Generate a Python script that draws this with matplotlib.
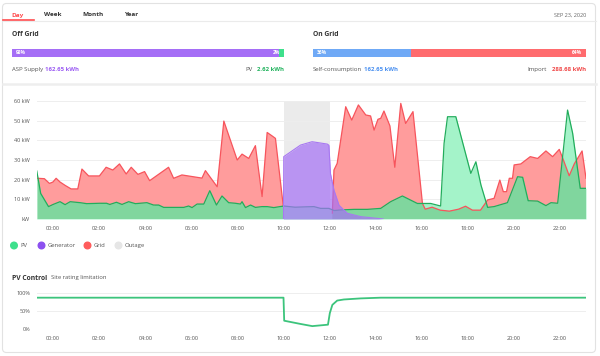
import numpy as np
import matplotlib
matplotlib.use('Agg')
import matplotlib.pyplot as plt
import matplotlib.transforms as mtransforms
from matplotlib.patches import FancyBboxPatch, Circle
from matplotlib.path import Path

plt.rcParams['font.family'] = ['Open Sans', 'DejaVu Sans']

# --- data ---
tabs = ['Day', 'Week', 'Month', 'Year']
date_label = 'SEP 23, 2020'

offgrid_pct = [98, 2]
offgrid_kwh = ['162.65 kWh', '2.62 kWh']
ongrid_pct = [36, 64]
ongrid_kwh = ['162.65 kWh', '288.68 kWh']

grid_hours = [-0.67, -0.38, -0.16, -0.01, 0.13, 0.30, 0.52, 0.78, 1.07, 1.25, 1.54, 2.01,
              2.30, 2.59, 2.88, 3.17, 3.39, 3.68, 3.97, 4.19, 5.01, 5.23, 5.59, 6.46,
              6.61, 7.12, 7.41, 7.99, 8.20, 8.49, 8.78, 9.07, 9.29, 9.51, 9.65, 9.99,
              10.03, 12.08, 12.12, 12.19, 12.33, 12.70, 12.96, 13.25, 13.57, 13.78, 13.93,
              14.10, 14.22, 14.36, 14.62, 14.83, 15.09, 15.30, 15.62, 16.03, 16.15, 16.45,
              16.80, 17.20, 17.60, 17.90, 18.20, 18.55, 18.86, 19.14, 19.39, 19.54, 19.68,
              19.80, 19.94, 20.01, 20.30, 20.71, 21.03, 21.39, 21.68, 21.97, 22.15, 22.40,
              22.62, 22.96, 23.13]
grid_kw = [20.7, 20.5, 18.1, 18.8, 20.7, 18.8, 17.1, 15.3, 15.3, 25.4, 21.9, 21.9,
           26.3, 24.9, 28.0, 22.9, 26.3, 22.7, 24.1, 19.5, 26.3, 20.7, 22.4, 20.8,
           24.6, 16.4, 49.8, 30.0, 33.0, 30.8, 37.3, 11.4, 44.0, 42.2, 41.0, 6.6,
           np.nan, np.nan, 3.0, 24.9, 28.3, 57.1, 50.3, 58.0, 52.9, 52.4, 45.2,
           50.7, 51.2, 54.9, 47.3, 26.3, 58.8, 48.6, 54.6, 8.0, 5.0, 6.0,
           4.5, 4.0, 5.0, 6.5, 4.5, 4.5, 9.7, 10.5, 19.8, 13.9, 13.9,
           20.7, 20.7, 27.5, 28.0, 31.7, 30.8, 34.6, 31.7, 35.4, 30.0, 22.0,
           28.0, 34.6, 20.7]

pv_hours = [-0.71, -0.54, -0.20, 0.0, 0.30, 0.52, 0.74, 1.17, 1.46, 2.03, 2.32, 2.46,
            2.75, 2.99, 3.28, 3.57, 4.07, 4.36, 4.58, 4.80, 5.67, 5.88, 6.03, 6.25,
            6.54, 6.80, 7.09, 7.33, 7.62, 7.91, 8.13, 8.20, 8.35, 8.57, 8.78, 9.07,
            9.29, 9.58, 10.01, 10.50, 11.00, 11.32, 11.61, 11.97, 12.20, 12.48, 13.06,
            13.64, 14.22, 14.65, 15.16, 15.81, 16.39, 16.82, 16.97, 17.12, 17.48, 18.13,
            18.35, 18.57, 18.86, 19.14, 19.72, 20.16, 20.38, 20.62, 21.03, 21.39, 21.61,
            21.90, 22.33, 22.55, 22.88, 23.13]
pv_kw = [24.4, 13.0, 6.3, 7.4, 8.8, 7.3, 8.8, 8.3, 7.8, 8.0, 8.0, 7.4,
         8.5, 7.4, 8.8, 7.8, 8.3, 7.1, 7.1, 5.9, 5.9, 6.6, 5.8, 7.6,
         7.6, 14.4, 7.1, 11.7, 8.3, 8.0, 7.6, 8.8, 5.8, 7.1, 5.9, 6.3,
         6.3, 5.8, 6.6, 6.0, 6.2, 6.3, 5.4, 5.4, 4.3, 4.6, 4.9,
         4.9, 5.4, 8.8, 11.7, 7.9, 7.9, 6.6, 38.5, 52.0, 52.0, 23.2,
         29.1, 17.3, 5.9, 6.3, 8.3, 21.5, 21.2, 9.3, 9.1, 6.8, 8.3,
         8.0, 55.4, 43.6, 15.6, 15.6]

gen_hours = [10.0, 10.01, 10.74, 11.24, 11.90, 11.97, 12.04, 12.19, 12.41, 12.77, 13.35, 14.33]
gen_kw = [0.0, 31.7, 37.6, 39.3, 38.1, 37.5, 23.0, 14.7, 7.0, 2.9, 1.2, 0.0]

outage = [10.0, 12.0]

ctrl_hours = [-0.7, 10.0, 10.03, 10.74, 11.25, 11.93, 12.01, 12.12, 12.33, 12.62, 13.35, 14.22, 23.13]
ctrl_pct = [87, 87, 23, 14, 8, 12, 44, 67, 79, 82, 85, 87, 87]

xticks = list(range(0, 24, 2))
xlabels = ['%02d:00' % h for h in xticks]
yticks = [0, 10, 20, 30, 40, 50, 60]
ylabels = ['kW'] + ['%d kW' % v for v in yticks[1:]]

W, H = 600, 356
fig = plt.figure(figsize=(W / 100, H / 100), dpi=100)
fig.patch.set_facecolor('white')
px = mtransforms.Affine2D().scale(1 / W, -1 / H).translate(0, 1) + fig.transFigure


def rect(l, t, w, h):
    return [l / W, 1 - (t + h) / H, w / W, h / H]


def txt(x, y, s, **kw):
    kw.setdefault('fontsize', 4.3)
    kw.setdefault('color', '#555555')
    kw.setdefault('va', 'center')
    fig.text(x, y, s, transform=px, **kw)


# card
fig.patches.append(FancyBboxPatch((2.5, 3.5), 593, 349, boxstyle='round,pad=0,rounding_size=4',
                                  ec='#e2e2e2', fc='none', lw=0.8, transform=px, zorder=-5))
fig.add_artist(plt.Line2D([2.5, 595.5], [20.5, 20.5], color='#ebebeb', lw=0.8, transform=px))
fig.add_artist(plt.Line2D([3, 34], [20.3, 20.3], color='#ff4d4f', lw=1.2, transform=px))
fig.add_artist(plt.Line2D([2.5, 595.5], [84, 84], color='#eeeeee', lw=1.8, transform=px))

# tabs
for name, x in zip(tabs, [18, 53, 93, 131]):
    txt(x, 15, name, ha='center', fontsize=4.6, fontweight='bold',
        color='#ff4d4f' if name == 'Day' else '#333333')
txt(586, 15, date_label, ha='right', fontsize=4, color='#666666')

# summary bars
txt(12, 35, 'Off Grid', fontsize=4.9, fontweight='bold', color='#333333')
txt(313, 35, 'On Grid', fontsize=4.9, fontweight='bold', color='#333333')

ax_off = fig.add_axes(rect(12, 49, 272, 8))
ax_off.barh(0, offgrid_pct[0], height=1, color='#a56ef6')
ax_off.barh(0, offgrid_pct[1], left=offgrid_pct[0], height=1, color='#3ee08c')
ax_on = fig.add_axes(rect(313, 49, 273, 8))
ax_on.barh(0, ongrid_pct[0], height=1, color='#6fa9f6')
ax_on.barh(0, ongrid_pct[1], left=ongrid_pct[0], height=1, color='#ff6b6e')
for a, pct in [(ax_off, offgrid_pct), (ax_on, ongrid_pct)]:
    a.set_xlim(0, 100)
    a.set_ylim(-0.5, 0.5)
    a.axis('off')
    a.text(1.5, 0, '%d%%' % pct[0], color='white', fontsize=3.5, va='center', fontweight='bold')
    a.text(98.5, 0, '%d%%' % pct[1], color='white', fontsize=3.5, va='center', ha='right',
           fontweight='bold')

txt(12, 69.5, 'ASP Supply')
txt(45, 69.5, offgrid_kwh[0], color='#9b5cf3', fontweight='bold')
txt(253, 69.5, 'PV', ha='right')
txt(284, 69.5, offgrid_kwh[1], ha='right', color='#22b35e', fontweight='bold')
txt(313, 69.5, 'Self-consumption')
txt(364, 69.5, ongrid_kwh[0], color='#4a90f0', fontweight='bold')
txt(547, 69.5, 'Import', ha='right')
txt(586, 69.5, ongrid_kwh[1], ha='right', color='#f04848', fontweight='bold')

# main power chart
ax = fig.add_axes(rect(37, 101, 549, 118))
ax.patch.set_alpha(0)
ax.axvspan(outage[0], outage[1], color='#ebebeb', lw=0, zorder=0.5)
red = ax.fill_between(grid_hours, 0, grid_kw, color='#ff9c9c', lw=0, zorder=1)
ax.fill_between(pv_hours, 0, pv_kw, color='#a4f3c9', lw=0, zorder=2)
# darker green where PV sits under the grid area
overlap = ax.fill_between(pv_hours, 0, pv_kw, color='#80d69e', lw=0, zorder=3)
clip = Path.make_compound_path(*red.get_paths())
overlap.set_clip_path(clip, ax.transData)
ax.plot(grid_hours, grid_kw, color='#f7545c', lw=0.9, zorder=4)
ax.plot(pv_hours, pv_kw, color='#22ad5c', lw=0.9, zorder=5)
ax.fill_between(gen_hours, 0, gen_kw, color='#a46ff5', alpha=0.7, lw=0, zorder=6)
ax.plot(gen_hours, gen_kw, color='#a878f2', lw=0.8, zorder=7)

ax.set_xlim(-0.7, 23.13)
ax.set_ylim(0, 60)
ax.set_yticks(yticks)
ax.set_yticklabels(ylabels)
ax.set_xticks(xticks)
ax.set_xticklabels(xlabels)
ax.grid(axis='y', color='#eeeeee', lw=0.7, zorder=0)
ax.set_axisbelow(True)
for s in ax.spines.values():
    s.set_visible(False)
ax.tick_params(length=0, labelsize=4, labelcolor='#555555')
ax.tick_params(axis='x', pad=5)
ax.tick_params(axis='y', pad=5)

# legend
for label, color, x, tx in [('PV', '#3ee08c', 14, 20.5), ('Generator', '#8c50f0', 41.5, 47.5),
                            ('Grid', '#ff5c5c', 87.5, 94), ('Outage', '#e6e6e6', 118.5, 125)]:
    fig.patches.append(Circle((x, 245.5), 3.3, color=color, transform=px))
    txt(tx, 245.5, label, fontsize=4.2)

# PV control chart
txt(12, 278, 'PV Control', fontsize=4.9, fontweight='bold', color='#333333')
txt(51, 278, 'Site rating limitation', fontsize=4.2)

ax2 = fig.add_axes(rect(37, 293, 549, 36))
ax2.patch.set_alpha(0)
ax2.plot(ctrl_hours, ctrl_pct, color='#3cc47c', lw=1.3)
ax2.set_xlim(-0.7, 23.13)
ax2.set_ylim(0, 100)
ax2.set_yticks([0, 50, 100])
ax2.set_yticklabels(['0%', '50%', '100%'])
ax2.set_xticks(xticks)
ax2.set_xticklabels(xlabels)
ax2.grid(axis='y', color='#eeeeee', lw=0.7)
ax2.set_axisbelow(True)
for s in ax2.spines.values():
    s.set_visible(False)
ax2.tick_params(length=0, labelsize=4, labelcolor='#555555')
ax2.tick_params(axis='x', pad=5)
ax2.tick_params(axis='y', pad=5)

fig.savefig('out.png', dpi=100)
